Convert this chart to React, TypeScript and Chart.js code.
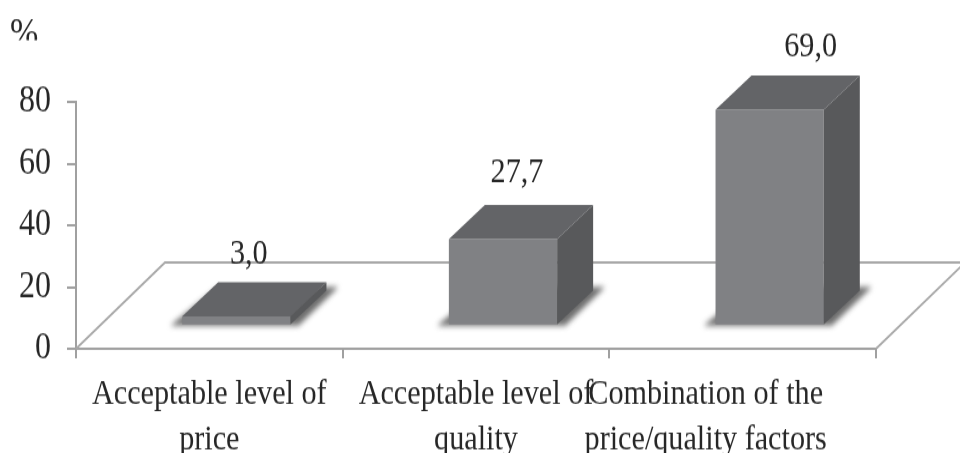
import React, { useEffect, useRef } from "react";
import { Chart, registerables } from "chart.js";

Chart.register(...registerables);

const categories = [
  ["Acceptable level of", "price"],
  ["Acceptable level of", "quality"],
  ["Combination of the", "price/quality factors"],
];
const values = [3.0, 27.7, 69.0];
const valueLabels = ["3,0", "27,7", "69,0"];
const yTicks = [0, 20, 40, 60, 80];

const FONT = '"Liberation Serif", serif';
const TEXT = "#262626";
const AXIS = "#a0a0a0";
const FRONT = "#808184";
const TOP = "#636467";
const SIDE = "#58595b";

const V = 453 / 378; // the picture is stretched vertically
const BAR_DX = 27;
const BAR_DY = -19.2;
const BAR_K = 1.015; // perspective: bars stand nearer than the axis plane
const DEPTH_X = 36;
const DEPTH_Y = 28.4;
const FLOOR_DX = 89;
const FLOOR_DY = 72;
const LABEL_SHIFT_X = [12.5, 14, 41];
const LABEL_SHIFT_Y = [-24, -27, -24.5];
const CATEGORY_SHIFT_X = [0, 0, -37];

const threeD = {
  id: "threeD",
  beforeDatasetsDraw(chart: any) {
    const { ctx, chartArea } = chart;
    const { left, right, bottom } = chartArea;
    const back = bottom - FLOOR_DY;
    ctx.save();
    ctx.strokeStyle = "#a8a8a8";
    ctx.lineWidth = 1.8;
    ctx.beginPath();
    ctx.moveTo(left, bottom);
    ctx.lineTo(left + FLOOR_DX, back);
    ctx.lineTo(right + FLOOR_DX, back);
    ctx.lineTo(right, bottom);
    ctx.stroke();
    const meta = chart.getDatasetMeta(0);
    ctx.filter = "blur(2.5px)";
    ctx.fillStyle = "#6e6e6e";
    meta.data.forEach((bar: any) => {
      const x0 = bar.x - bar.width / 2 + BAR_DX;
      const x1 = bar.x + bar.width / 2 + BAR_DX;
      const y = bar.base + BAR_DY;
      ctx.beginPath();
      ctx.moveTo(x0 - 12, y + 1);
      ctx.lineTo(x0 + DEPTH_X, y - DEPTH_Y - 3);
      ctx.lineTo(x1 + DEPTH_X + 12, y - DEPTH_Y - 3);
      ctx.lineTo(x1 + 8, y + 1);
      ctx.closePath();
      ctx.fill();
    });
    ctx.restore();
    ctx.save();
    ctx.translate(BAR_DX, BAR_DY + bottom);
    ctx.scale(1, BAR_K);
    ctx.translate(0, -bottom);
  },
  afterDatasetsDraw(chart: any) {
    const { ctx } = chart;
    ctx.restore();
    const meta = chart.getDatasetMeta(0);
    meta.data.forEach((bar: any, i: number) => {
      const x0 = bar.x - bar.width / 2 + BAR_DX;
      const x1 = bar.x + bar.width / 2 + BAR_DX;
      const base = bar.base + BAR_DY;
      const top = base - (bar.base - bar.y) * BAR_K;
      ctx.save();
      ctx.fillStyle = TOP;
      ctx.beginPath();
      ctx.moveTo(x0, top);
      ctx.lineTo(x0 + DEPTH_X, top - DEPTH_Y);
      ctx.lineTo(x1 + DEPTH_X, top - DEPTH_Y);
      ctx.lineTo(x1, top);
      ctx.closePath();
      ctx.fill();
      ctx.fillStyle = SIDE;
      ctx.beginPath();
      ctx.moveTo(x1, top);
      ctx.lineTo(x1 + DEPTH_X, top - DEPTH_Y);
      ctx.lineTo(x1 + DEPTH_X, base - DEPTH_Y);
      ctx.lineTo(x1, base);
      ctx.closePath();
      ctx.fill();
      ctx.fillStyle = TEXT;
      ctx.font = `30.2px ${FONT}`;
      ctx.textAlign = "center";
      ctx.textBaseline = "middle";
      ctx.fillText(
        valueLabels[i],
        (x0 + x1) / 2 + LABEL_SHIFT_X[i],
        top - DEPTH_Y + LABEL_SHIFT_Y[i]
      );
      ctx.restore();
    });
  },
  afterDraw(chart: any) {
    const { ctx, scales } = chart;
    ctx.save();
    ctx.fillStyle = TEXT;
    ctx.font = `30.2px ${FONT}`;
    ctx.textAlign = "center";
    ctx.textBaseline = "alphabetic";
    categories.forEach((lines, i) => {
      const x = scales.x.getPixelForValue(i) + CATEGORY_SHIFT_X[i];
      lines.forEach((line, j) => {
        ctx.fillText(line, x, 337 + j * 37.5);
      });
    });
    ctx.restore();
    ctx.save();
    ctx.beginPath();
    ctx.rect(0, 0, 80, 40 / V);
    ctx.clip();
    ctx.fillStyle = TEXT;
    ctx.font = `34px ${FONT}`;
    ctx.textAlign = "left";
    ctx.textBaseline = "alphabetic";
    ctx.fillText("%", 10, 38);
    ctx.restore();
  },
};

export default function App() {
  const ref = useRef<HTMLCanvasElement>(null);
  useEffect(() => {
    const canvas = ref.current!;
    const chart = new Chart(canvas, {
      type: "bar",
      data: {
        labels: categories.map((c) => c.join(" ")),
        datasets: [
          {
            data: values,
            backgroundColor: FRONT,
            borderWidth: 0,
            barPercentage: 0.406,
            categoryPercentage: 1,
            clip: false,
          } as any,
        ],
      },
      options: {
        animation: false,
        responsive: false,
        maintainAspectRatio: false,
        devicePixelRatio: 1,
        layout: { padding: { top: 85, right: 84, left: 0, bottom: 0 } },
        plugins: { legend: { display: false }, tooltip: { enabled: false } },
        scales: {
          x: {
            grid: {
              display: true,
              drawOnChartArea: false,
              color: AXIS,
              lineWidth: 2,
              tickLength: 8,
            },
            border: { color: AXIS, width: 2 },
            ticks: { display: false },
            afterFit: (s: any) => {
              s.height = 87;
            },
          },
          y: {
            min: 0,
            max: 80,
            afterBuildTicks: (s: any) => {
              s.ticks = yTicks.map((value) => ({ value }));
            },
            grid: {
              display: true,
              drawOnChartArea: false,
              color: AXIS,
              lineWidth: 2,
              tickLength: 9,
            },
            border: { color: AXIS, width: 2 },
            ticks: {
              color: TEXT,
              padding: 16,
              font: { family: FONT, size: 32 },
            },
            afterFit: (s: any) => {
              s.width = 76;
            },
          },
        },
      } as any,
      plugins: [threeD],
    });
    return () => chart.destroy();
  }, []);
  return (
    <canvas
      ref={ref}
      width={960}
      height={378}
      style={{
        position: "absolute",
        left: 0,
        top: 0,
        width: "960px",
        height: "453px",
        display: "block",
      }}
    />
  );
}
